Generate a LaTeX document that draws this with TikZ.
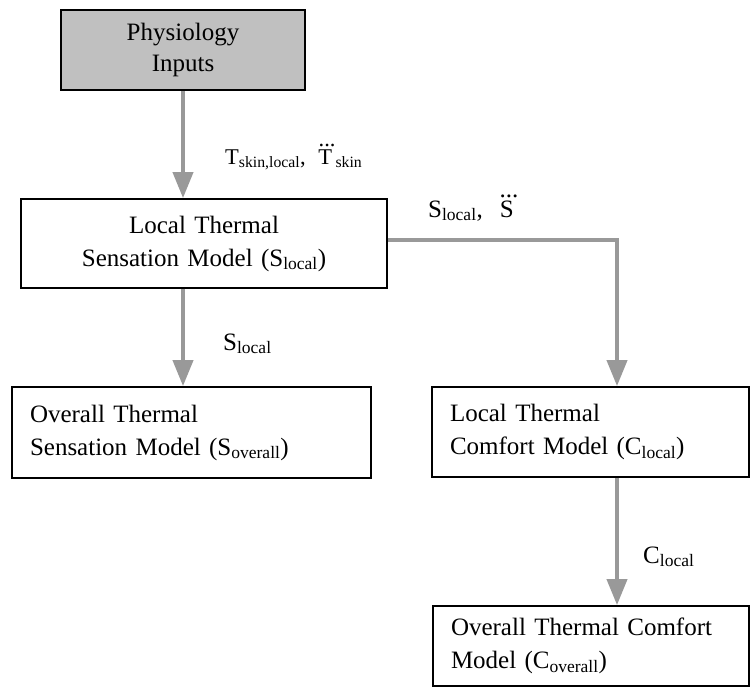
\documentclass[tikz,border=0pt]{standalone}
\usepackage{amsmath}
\usepackage{fontspec}
\setmainfont{Liberation Serif}
\usetikzlibrary{arrows.meta}
\definecolor{arrgray}{HTML}{999999}
\definecolor{boxgray}{HTML}{C0C0C0}
\newcommand{\tdot}[1]{\ensuremath{\dddot{\mathrm{#1}}}}
\begin{document}
\begin{tikzpicture}[x=1pt,y=-1pt,
  boxtxt/.style={font=\fontsize{25}{33}\selectfont},
  mbox/.style={draw=black, line width=1.8pt, rectangle, inner ysep=0pt, inner xsep=18pt, boxtxt},
  conn/.style={draw=arrgray, line width=4pt},
  arr/.style={conn, -{Triangle[width=20pt,length=26pt]}},
  lbl/.style={anchor=base west, inner sep=0pt, boxtxt}]
\useasboundingbox (0,0) rectangle (751,688);

\node[mbox, fill=boxgray, line width=2.4pt, font=\fontsize{25}{31}\selectfont, align=center,
  text width=208pt, minimum height=80pt] (phys) at (183,50) {Physiology\\Inputs};
\node[mbox, align=center, text width=330pt, minimum height=89pt] (lts) at (204,243.5)
  {Local Thermal\\Sensation Model (S\textsubscript{local})};
\node[mbox, align=left, text width=323pt, minimum height=91pt] (ots) at (191.5,432.5)
  {Overall Thermal\\Sensation Model (S\textsubscript{overall})};
\node[mbox, align=left, text width=281pt, minimum height=90pt] (ltc) at (590.5,432)
  {Local Thermal\\Comfort Model (C\textsubscript{local})};
\node[mbox, align=left, text width=280pt, minimum height=80pt] (otc) at (591,646)
  {Overall Thermal Comfort\\Model (C\textsubscript{overall})};

\coordinate (bend) at (617,240);
\draw[arr] (phys.south) -- (phys.south |- lts.north);
\draw[arr] (phys.south |- lts.south) -- (phys.south |- ots.north);
\draw[arr] (lts.east |- bend) -- (bend) -- (bend |- ltc.north);
\draw[arr] (bend |- ltc.south) -- (bend |- otc.north);

\node[lbl, font=\fontsize{22.5}{26}\selectfont] (lt) at (225,164)
  {T\textsubscript{skin,local},\hspace{0.4em}\tdot{T}\textsubscript{skin}};
\node[lbl] (ls) at (428,217) {S\textsubscript{local},\hspace{0.5em}\tdot{S}};
\node[lbl] (ls2) at (223,350) {S\textsubscript{local}};
\node[lbl] (lc) at (643,563) {C\textsubscript{local}};
\end{tikzpicture}
\end{document}
